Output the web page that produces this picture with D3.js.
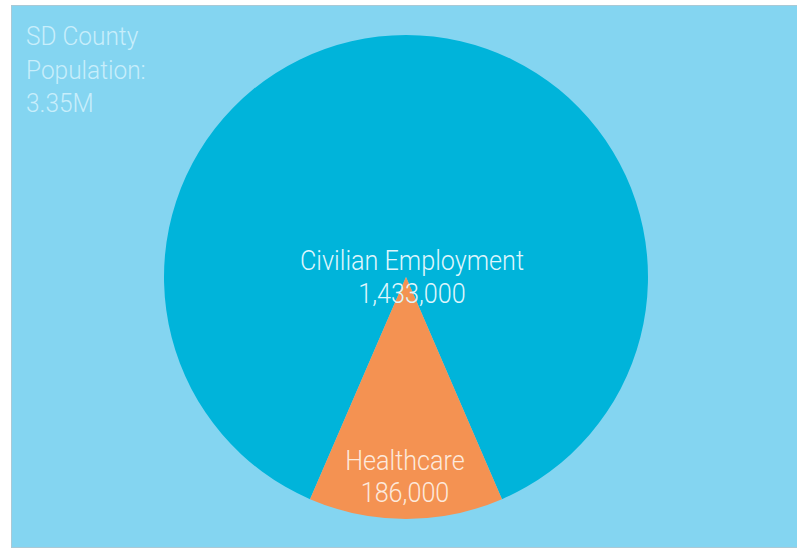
<!DOCTYPE html>
<html>
<head>
<meta charset="utf-8">
<script src="https://cdn.jsdelivr.net/npm/d3@7"></script>
<style>
  html, body { margin: 0; padding: 0; background: #ffffff; }
  svg { display: block; }
  text { font-family: Roboto, "Noto Sans", sans-serif; font-weight: 300; }
</style>
</head>
<body>
<div id="chart"></div>
<script>
// Employment in San Diego County: healthcare share of civilian employment
const categories = ["Civilian Employment", "Healthcare"];
const values = [1433000, 186000];          // civilian total, healthcare subset
const noteLines = ["SD County", "Population:", "3.35M"];

const width = 797, height = 549;
const svg = d3.select("#chart").append("svg")
  .attr("width", width).attr("height", height);

// panel
svg.append("rect").attr("x", 11).attr("y", 5)
  .attr("width", width - 11).attr("height", height - 6)
  .attr("fill", "#a9c9d6");
svg.append("rect").attr("x", 12).attr("y", 6)
  .attr("width", width - 12).attr("height", height - 8)
  .attr("fill", "#84d5f1");

const cx = 406, cy = 277, r = 242;
const total = values[0];
const rest = total - values[1];
const pieData = [rest, values[1]];

// rotate so the healthcare slice is centered at the bottom
const startAngle = Math.PI - (rest + values[1] / 2) / total * 2 * Math.PI;
const pie = d3.pie().sort(null)
  .startAngle(startAngle).endAngle(startAngle + 2 * Math.PI);
const arc = d3.arc().innerRadius(0).outerRadius(r);
const colors = ["#00b4da", "#f49252"];

const g = svg.append("g").attr("transform", `translate(${cx},${cy})`);
g.selectAll("path").data(pie(pieData)).join("path")
  .attr("d", arc)
  .attr("fill", (d, i) => colors[i]);

const fmt = d3.format(",");

// narrow, tall label text
function label(parent, x, y, txt, size, sx, fill, anchor) {
  parent.append("text")
    .attr("transform", `translate(${x},${y}) scale(${sx},1)`)
    .attr("text-anchor", anchor).attr("font-size", size)
    .attr("fill", fill).text(txt);
}

// civilian label
label(g, 6, -7, categories[0], 28, 0.9, "#dff6fd", "middle");
label(g, 6, 26, fmt(values[0]), 28, 0.9, "#dff6fd", "middle");

// healthcare label
label(g, -1, 193, categories[1], 28, 0.9, "#fde9dc", "middle");
label(g, -1, 225, fmt(values[1]), 28, 0.9, "#fde9dc", "middle");

// population note
noteLines.forEach((t, i) => label(svg, 26, 45 + i * 33.5, t, 26, 0.94, "#c8eefb", "start"));
</script>
</body>
</html>
